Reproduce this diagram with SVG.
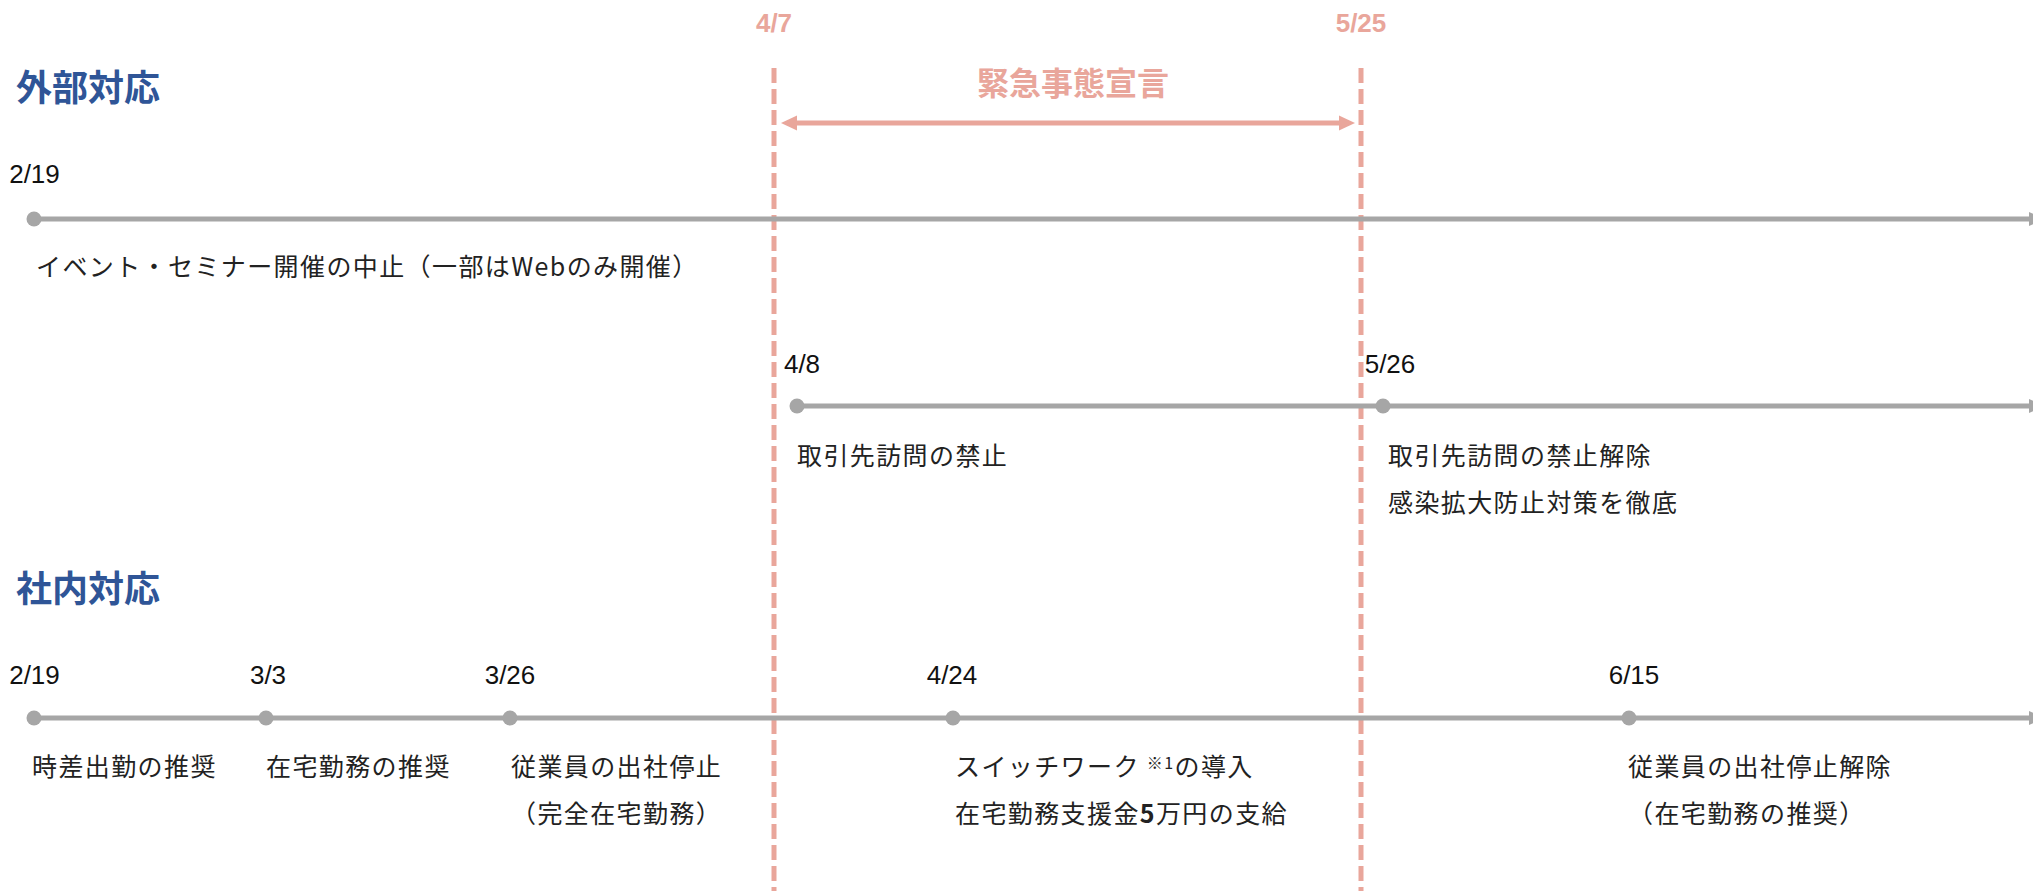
<svg xmlns="http://www.w3.org/2000/svg" width="2033" height="891" viewBox="0 0 2033 891">
<style>
.bg{fill:#ffffff}
.tl{stroke:#A6A6A6;stroke-width:5;fill:none}
.dot{fill:#A6A6A6}
.dash{stroke:#E9A69B;stroke-width:5;stroke-dasharray:15 6;fill:none}
.em{stroke:#E9A69B;stroke-width:5;fill:none}
.date{font-family:"Liberation Sans",Arial,sans-serif;font-size:26px;fill:#111111;text-anchor:middle}
.hdate{font-family:"Liberation Sans",Arial,sans-serif;font-size:26px;font-weight:700;fill:#E9A69B;text-anchor:middle}
.jpx{font-family:"Noto Sans CJK JP",sans-serif;font-size:25px;letter-spacing:1.4px;fill:#222222}
.title{font-family:"Noto Sans CJK JP",sans-serif;font-size:36px;font-weight:700;fill:#2F5597}
.emt{font-family:"Noto Sans CJK JP",sans-serif;font-size:32px;font-weight:700;fill:#E9A69B;text-anchor:middle}
</style>
<defs>
<marker id="garrow" markerUnits="userSpaceOnUse" markerWidth="16" markerHeight="14" refX="0" refY="7" orient="auto" overflow="visible">
<path d="M0,0 L16,7 L0,14 z" fill="#A6A6A6"/>
</marker>
<marker id="earrow" markerUnits="userSpaceOnUse" markerWidth="16" markerHeight="15" refX="0" refY="7.5" orient="auto-start-reverse" overflow="visible">
<path d="M0,0 L16,7.5 L0,15 z" fill="#E9A69B"/>
</marker>
</defs>
<rect class="bg" x="0" y="0" width="2033" height="891"/>

<g id="headings">
<text class="title" x="16" y="101">外部対応</text>
<text class="title" x="16" y="602">社内対応</text>
</g>

<g id="emergency">
<text class="hdate" x="774" y="32">4/7</text>
<text class="hdate" x="1361" y="32">5/25</text>
<text class="emt" x="1073" y="95">緊急事態宣言</text>
</g>

<g id="connectors">
<line class="dash" x1="774" y1="68" x2="774" y2="891"/>
<line class="dash" x1="1361" y1="68" x2="1361" y2="891"/>
<line class="em" x1="797" y1="123" x2="1339" y2="123" marker-start="url(#earrow)" marker-end="url(#earrow)"/>
<line class="tl" x1="34" y1="219" x2="2029" y2="219" marker-end="url(#garrow)"/>
<line class="tl" x1="797" y1="406" x2="2029" y2="406" marker-end="url(#garrow)"/>
<line class="tl" x1="34" y1="718" x2="2029" y2="718" marker-end="url(#garrow)"/>
</g>

<g id="ext-0219">
<circle class="dot" cx="34" cy="219" r="7.5"/>
<text class="date" x="34.5" y="183">2/19</text>
<text class="jpx" x="36" y="275.5">イベント・セミナー開催の中止（一部はWebのみ開催）</text>
</g>

<g id="ext-0408">
<circle class="dot" cx="797" cy="406" r="7.5"/>
<text class="date" x="802" y="373">4/8</text>
<text class="jpx" x="797" y="464.5">取引先訪問の禁止</text>
</g>

<g id="ext-0526">
<circle class="dot" cx="1383" cy="406" r="7.5"/>
<text class="date" x="1390" y="373">5/26</text>
<text class="jpx" x="1388" y="464.5">取引先訪問の禁止解除</text>
<text class="jpx" x="1388" y="511.5">感染拡大防止対策を徹底</text>
</g>

<g id="int-0219">
<circle class="dot" cx="34" cy="718" r="7.5"/>
<text class="date" x="34.5" y="684">2/19</text>
<text class="jpx" x="32" y="775.5">時差出勤の推奨</text>
</g>

<g id="int-0303">
<circle class="dot" cx="266" cy="718" r="7.5"/>
<text class="date" x="268" y="684">3/3</text>
<text class="jpx" x="266" y="775.5">在宅勤務の推奨</text>
</g>

<g id="int-0326">
<circle class="dot" cx="510" cy="718" r="7.5"/>
<text class="date" x="510" y="684">3/26</text>
<text class="jpx" x="511" y="775.5">従業員の出社停止</text>
<text class="jpx" x="511" y="822.5">（完全在宅勤務）</text>
</g>

<g id="int-0424">
<circle class="dot" cx="953" cy="718" r="7.5"/>
<text class="date" x="952" y="684">4/24</text>
<text class="jpx" x="955" y="775.5">スイッチワーク <tspan font-size="16" dy="-7">※1</tspan><tspan dy="7">の導入</tspan></text>
<text class="jpx" x="955" y="822.5">在宅勤務支援金<tspan font-weight="700">5</tspan>万円の支給</text>
</g>

<g id="int-0615">
<circle class="dot" cx="1629" cy="718" r="7.5"/>
<text class="date" x="1634" y="684">6/15</text>
<text class="jpx" x="1628" y="775.5">従業員の出社停止解除</text>
<text class="jpx" x="1628" y="822.5">（在宅勤務の推奨）</text>
</g>
</svg>
